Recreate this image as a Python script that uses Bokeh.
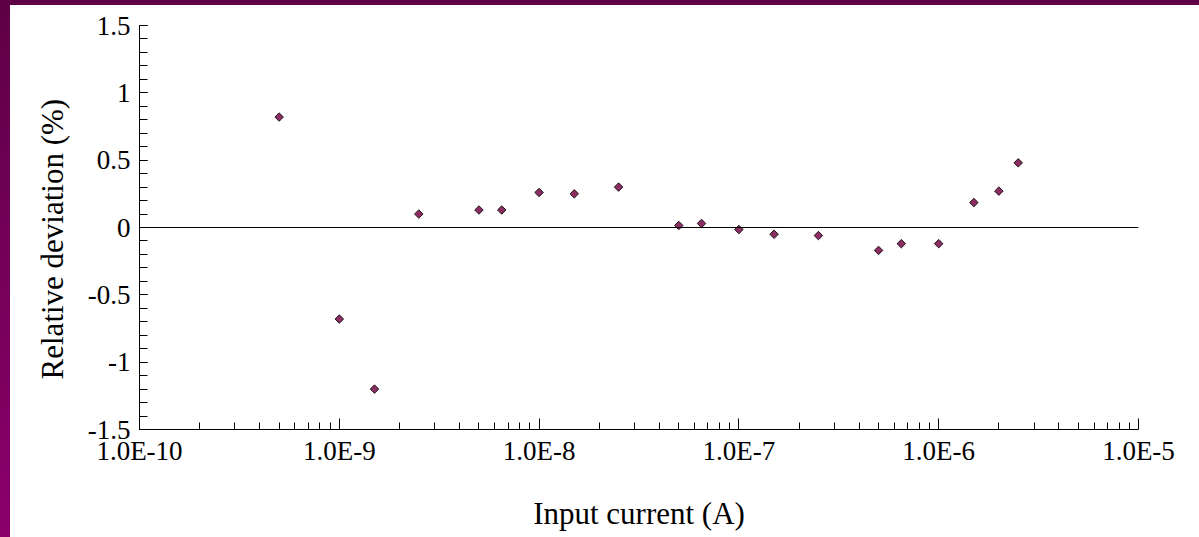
import numpy as np
from bokeh.plotting import figure
from bokeh.layouts import column
from bokeh.models import (FixedTicker, CustomJSTickFormatter, Span, ColumnDataSource)
from bokeh.embed import file_html
from bokeh.resources import INLINE

# Input current (A) and relative deviation (%)
current = [5e-10, 1e-9, 1.5e-9, 2.5e-9, 5e-9, 6.5e-9, 1e-8, 1.5e-8, 2.5e-8,
           5e-8, 6.5e-8, 1e-7, 1.5e-7, 2.5e-7, 5e-7, 6.5e-7, 1e-6, 1.5e-6,
           2e-6, 2.5e-6]
deviation = [0.82, -0.68, -1.20, 0.10, 0.13, 0.13, 0.26, 0.25, 0.30,
             0.015, 0.03, -0.015, -0.05, -0.06, -0.17, -0.12, -0.12, 0.185,
             0.27, 0.48]

x_decades = [-10, -9, -8, -7, -6, -5]
y_major = [-1.5, -1.0, -0.5, 0.0, 0.5, 1.0, 1.5]

FONT = "'Liberation Serif', 'Times New Roman', serif"

p = figure(width=1189, height=532, x_axis_type="log",
           x_range=(1e-10, 1e-5), y_range=(-1.5, 1.5),
           output_backend="svg", toolbar_location=None,
           min_border_left=129, min_border_right=61,
           min_border_top=20, min_border_bottom=108)
p.outline_line_color = None
p.grid.visible = False
p.background_fill_color = "white"
p.border_fill_color = "white"

x_major = [10.0 ** d for d in x_decades]
x_minor = [k * 10.0 ** d for d in x_decades[:-1] for k in range(2, 10)]
p.xaxis.ticker = FixedTicker(ticks=x_major, minor_ticks=x_minor)
p.xaxis.formatter = CustomJSTickFormatter(
    code="return tick.toExponential(1).toUpperCase();")

y_minor = [round(v, 1) for v in np.arange(-1.5, 1.5001, 0.1)]
p.yaxis.ticker = FixedTicker(ticks=y_major, minor_ticks=y_minor)
p.yaxis.formatter = CustomJSTickFormatter(
    code="return String(Number(tick.toFixed(1)));")

for ax in (p.xaxis[0], p.yaxis[0]):
    ax.axis_line_color = "black"
    ax.axis_line_width = 1
    ax.major_tick_line_color = "black"
    ax.minor_tick_line_color = "black"
    ax.major_tick_out = 0
    ax.minor_tick_out = 0
    ax.major_label_text_font = FONT
    ax.major_label_text_font_size = "27px"
    ax.major_label_text_color = "black"
    ax.axis_label_text_font = FONT
    ax.axis_label_text_font_size = "31px"
    ax.axis_label_text_font_style = "normal"
    ax.axis_label_text_color = "black"

p.xaxis.major_tick_in = 11
p.xaxis.minor_tick_in = 7
p.yaxis.major_tick_in = 8
p.yaxis.minor_tick_in = 8
p.xaxis.major_label_standoff = 6
p.yaxis.major_label_standoff = 9
p.xaxis.axis_label = "Input current (A)"
# trailing no-break spaces nudge the rotated title a little lower
p.yaxis.axis_label = "Relative deviation (%)\u00a0\u00a0\u00a0"
p.xaxis.axis_label_standoff = 27
p.yaxis.axis_label_standoff = 15

p.add_layout(Span(location=0, dimension="width", line_color="black",
                  line_width=1))

src = ColumnDataSource(data=dict(x=current, y=deviation))
p.scatter("x", "y", source=src, marker="square", angle=np.pi / 4, size=6,
          fill_color="#8c2d63", line_color="#1e1418", line_width=1)

page = column(p, width=1199, height=537,
              styles={"background": ("linear-gradient(to bottom, #5e0046, #8b006b) "
                                     "left top / 10px 100% no-repeat, "
                                     "linear-gradient(#5e0046, #5e0046) "
                                     "left top / 100% 5px no-repeat, white"),
                      "padding": "5px 0 0 10px", "box-sizing": "border-box"})

open("out.html", "w").write(file_html(page, INLINE))
